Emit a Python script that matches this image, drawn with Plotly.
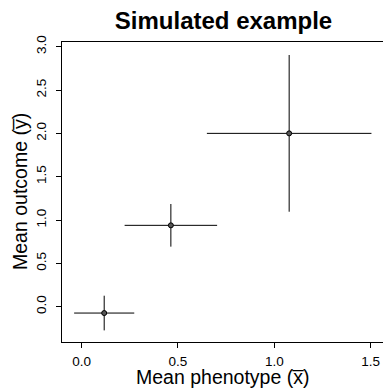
import plotly.graph_objects as go

# Data
x_mean = [0.117, 0.463, 1.077]
y_mean = [-0.073, 0.939, 2.0]
x_err = [0.156, 0.240, 0.427]
y_err = [0.200, 0.246, 0.904]
x_ticks = [0.0, 0.5, 1.0, 1.5]
y_ticks = [0.0, 0.5, 1.0, 1.5, 2.0, 2.5, 3.0]

font = "Liberation Sans, Arial, Helvetica, sans-serif"
W, H = 383, 388
L, R, T, B = 62, 0, 42, 46
pw, ph = W - L - R, H - T - B

fig = go.Figure()
fig.add_trace(go.Scatter(
    x=x_mean, y=y_mean, mode="markers",
    marker=dict(symbol="circle", size=5, color="#555555",
                line=dict(color="black", width=1)),
    error_x=dict(type="data", array=x_err, color="black", thickness=1, width=0),
    error_y=dict(type="data", array=y_err, color="black", thickness=1, width=0),
    showlegend=False,
))

fig.update_layout(
    width=W, height=H,
    margin=dict(l=L, r=R, t=T, b=B, autoexpand=False),
    paper_bgcolor="white", plot_bgcolor="white",
    font=dict(family=font, color="black"),
    title=dict(text="<b>Simulated example</b>", x=223.5 / W, xanchor="center",
               y=1 - 20.5 / H, yanchor="middle", font=dict(size=24)),
    xaxis=dict(
        range=[-0.102, 1.564], tickvals=x_ticks, ticktext=[f"{v:.1f}" for v in x_ticks],
        showgrid=False, zeroline=False, showline=True, linecolor="black", linewidth=1,
        mirror=True, ticks="outside", ticklen=5, tickcolor="black",
        tickfont=dict(size=13.5), ticklabelstandoff=2, automargin=False,
    ),
    yaxis=dict(
        range=[-0.407, 3.054], tickvals=y_ticks, ticktext=[f"{v:.1f}" for v in y_ticks],
        showgrid=False, zeroline=False, showline=True, linecolor="black", linewidth=1,
        mirror=False, ticks="outside", ticklen=5, tickcolor="black", tickangle=-90,
        tickfont=dict(size=13.5), ticklabelstandoff=5, automargin=False,
    ),
    annotations=[
        dict(text="Mean phenotype (x\u0305)", xref="paper", yref="paper",
             x=(223 - L) / pw, y=(H - B - 376.5) / ph,
             xanchor="center", yanchor="middle", showarrow=False,
             font=dict(size=19.5)),
        dict(text="Mean outcome (y\u0305)", xref="paper", yref="paper",
             x=(20 - L) / pw, y=(H - B - 192) / ph, textangle=-90,
             xanchor="center", yanchor="middle", showarrow=False,
             font=dict(size=19.5)),
    ],
)

fig.write_html("out.html", config={"displayModeBar": False},
               post_script="document.body.style.margin='0';document.body.style.overflow='hidden';")
